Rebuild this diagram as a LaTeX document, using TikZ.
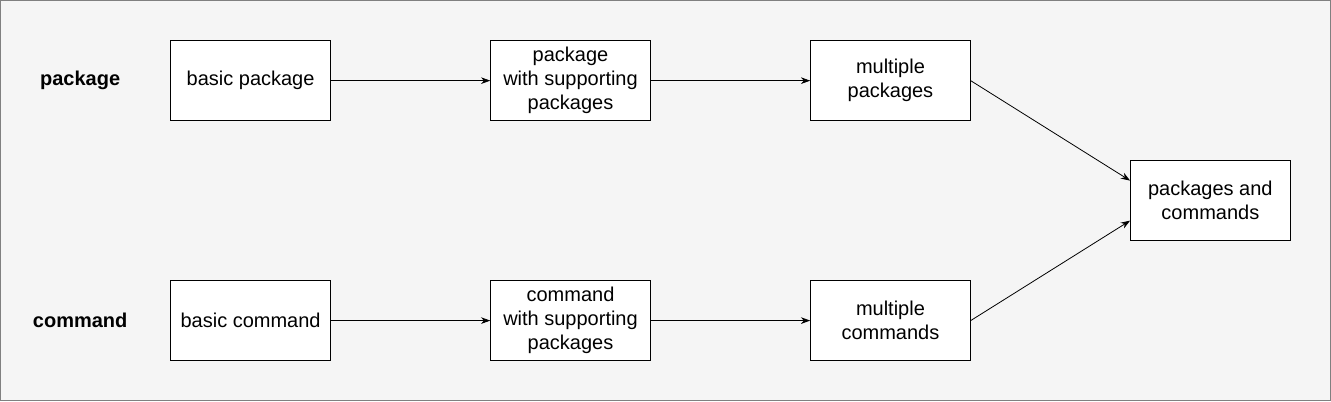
\documentclass[tikz,border=0pt]{standalone}
\usepackage{fontspec}
\setmainfont{Liberation Sans}
\usetikzlibrary{arrows.meta}
\definecolor{bgfill}{HTML}{F5F5F5}
\definecolor{bgline}{HTML}{808080}
\tikzset{
  box/.style={rectangle, draw, fill=white, minimum width=120pt, minimum height=60pt, align=center, inner sep=0pt, font=\fontsize{15pt}{18pt}\selectfont},
  rowlabel/.style={font=\fontsize{15pt}{18pt}\selectfont\bfseries},
  flow/.style={-{Stealth[length=7pt,width=5pt]}, line width=0.6pt}
}
\begin{document}
\begin{tikzpicture}[x=0.75pt, y=-0.75pt]
\draw[fill=bgfill, draw=bgline, line width=1pt] (0.5,0.5) rectangle (1330.5,400.5) ;
\useasboundingbox (0,0) rectangle (1331,401) ;
% row labels
\draw (80,80) node[rowlabel](lpkg) {package} ;
\draw (80,320) node[rowlabel](lcmd) {command} ;
% package row
\draw (250.5,80.5) node[box](p1) {basic package} ;
  \draw (570.5,80.5) node[box](p2) {package\\with supporting\\packages} ;
    \draw (890.5,80.5) node[box](p3) {multiple\\packages} ;
% command row
\draw (250.5,320.5) node[box](c1) {basic command} ;
  \draw (570.5,320.5) node[box](c2) {command\\with supporting\\packages} ;
    \draw (890.5,320.5) node[box](c3) {multiple\\commands} ;
% result
      \draw (1210.5,200.5) node[box](pc) {packages and\\commands} ;
\draw[flow] (p1) -- (p2) ;
\draw[flow] (p2) -- (p3) ;
\draw[flow] (c1) -- (c2) ;
\draw[flow] (c2) -- (c3) ;
\draw[flow] (p3.east) -- ([yshift=15pt]pc.west) ;
\draw[flow] (c3.east) -- ([yshift=-15pt]pc.west) ;
\end{tikzpicture}
\end{document}
